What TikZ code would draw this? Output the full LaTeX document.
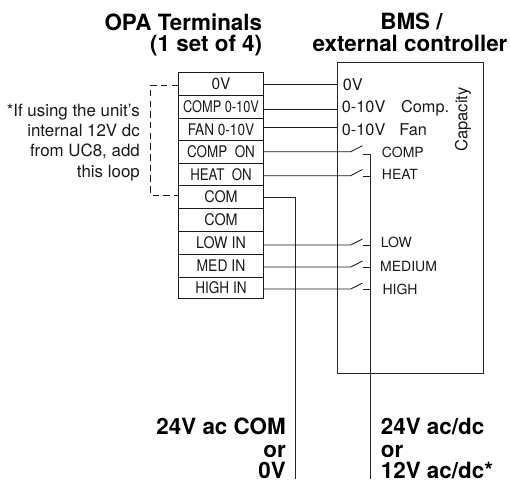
\documentclass[tikz,border=0pt]{standalone}
\usepackage{fontspec}
\setmainfont{TeX Gyre Heros}
\newcommand{\sq}[2]{\scalebox{#1}[1]{#2}}
\tikzset{
  wire/.style={draw=black!90,line width=0.85pt},
  vwire/.style={draw=black!85,line width=1pt},
  cell/.style={draw=black!90,line width=1pt,inner sep=0pt,minimum width=85pt,font=\fontsize{16}{18}\selectfont,text=black!90},
  note/.style={inner sep=0pt,font=\fontsize{16.9}{19}\selectfont,anchor=base east,text=black!90},
  head/.style={inner sep=0pt,font=\fontsize{22.4}{24}\selectfont\bfseries},
  big/.style={inner sep=0pt,font=\fontsize{22.4}{24}\selectfont\bfseries},
  lab/.style={inner sep=0pt,anchor=base west,font=\fontsize{16.3}{18}\selectfont,text=black!90},
  sm/.style={inner sep=0pt,anchor=base west,font=\fontsize{14}{16}\selectfont,text=black!90}
}
\newcommand{\cellnode}[4]{\node[cell,minimum height=#3-#2,anchor=north west] (#1) at (178,#2) {#4};}
\begin{document}
\begin{tikzpicture}[x=1pt,y=-1pt]
\useasboundingbox (0,0) rectangle (510,479);
% headers
\node[head,anchor=base east] (h1) at (262.3,30) {OPA Terminals};
\node[head,anchor=base east] (h2) at (262.3,51.5) {(1 set of 4)};
\node[head,anchor=base] (h3) at (411.5,29.5) {BMS /};
\node[head,anchor=base] (h4) at (410,51.5) {external controller};
% controller
\node[draw=black!85,line width=0.8pt,inner sep=0pt,minimum width=145.5pt,minimum height=310.5pt,anchor=north west] (ctrl) at (337.3,62.3) {};
\node[inner sep=0pt,rotate=90,anchor=base,font=\fontsize{16.6}{18}\selectfont,text=black!90] (cap) at (467.3,119.5) {Capacity};
% terminal block
\cellnode{t0}{72}{95}{\sq{0.97}{0V}}
\cellnode{t1}{95}{118}{\sq{0.8}{COMP 0-10V}}
\cellnode{t2}{118}{140}{\sq{0.85}{FAN 0-10V}}
\cellnode{t3}{140}{163}{\sq{0.84}{COMP\ \ ON}}
\cellnode{t4}{163}{185}{\sq{0.83}{HEAT\ \ ON}}
\cellnode{t5}{185}{207.5}{\sq{0.9}{COM}}
\cellnode{t6}{207.5}{230.5}{\sq{0.9}{COM}}
\cellnode{t7}{230.5}{253.5}{\sq{0.89}{LOW IN}}
\cellnode{t8}{253.5}{276.5}{\sq{0.87}{MED IN}}
\cellnode{t9}{276.5}{297.5}{\sq{0.85}{HIGH IN}}
% note
\node[note] (n1) at (140,116) {*If using the unit’s};
\node[note] (n2) at (140,136.7) {internal 12V dc};
\node[note] (n3) at (140,156.7) {from UC8, add};
\node[note] (n4) at (140,177) {this loop};
% dashed loop
\coordinate (la) at (150.7,85);
\coordinate (lb) at (150.7,195);
\draw[wire,dash pattern=on 6.5pt off 4.2pt] (t0.west |- la) -- (la) -- (lb) -- (t5.west |- lb);
% controller labels
\node[lab] (l0) at (342.7,90.7) {0V};
\node[lab] (l1) at (341.7,112.3) {0-10V\hspace{15.7pt}Comp.};
\node[lab] (l2) at (341.7,135) {0-10V\hspace{14pt}Fan};
\node[sm] (l3) at (381.7,157.7) {COMP};
\node[sm] (l4) at (381.7,179.3) {HEAT};
\node[sm] (l7) at (380.7,247.7) {LOW};
\node[sm] (l8) at (380,271.7) {MEDIUM};
\node[sm] (l9) at (382.3,294) {HIGH};
% direct wires
\coordinate (c0) at (337.3,84);
\coordinate (c1) at (337.3,109);
\coordinate (c2) at (337.3,127.7);
\draw[wire] (t0.east |- c0) -- (c0);
\draw[wire] (t1.east |- c1) -- (c1);
\draw[wire] (t2.east |- c2) -- (c2);
% switch contacts
\coordinate (s3) at (350.7,151.7); \coordinate (b3) at (362.5,145.7); \coordinate (k3) at (363,154);
\coordinate (s4) at (350.7,175.7); \coordinate (b4) at (362.5,169.5); \coordinate (k4) at (363,176);
\coordinate (s7) at (350.7,245); \coordinate (b7) at (362.5,239); \coordinate (k7) at (363,245);
\coordinate (s8) at (350.7,267); \coordinate (b8) at (362.5,261); \coordinate (k8) at (363,267);
\coordinate (s9) at (350.7,289); \coordinate (b9) at (362.5,283); \coordinate (k9) at (363,289.7);
\coordinate (rail) at (370.7,154);
\coordinate (railend) at (370.7,479);
\coordinate (comc) at (295.7,197.3);
\coordinate (comend) at (295.7,479);
% supply rails
\draw[vwire] (t5.east |- comc) -- (comc) -- (comend);
\draw[vwire] (k3) -- (rail) -- (railend);
\foreach \i in {3,4,7,8,9}{
  \draw[wire] (t\i.east |- s\i) -- (s\i) -- (b\i);
}
\foreach \i in {4,7,8,9}{
  \draw[wire] (k\i) -- (rail |- k\i);
}
% bottom labels
\node[big,anchor=base east] (a1) at (286,434.3) {24V ac COM};
\node[big,anchor=base east] (a2) at (286,457.3) {or};
\node[big,anchor=base east] (a3) at (286,478.5) {0V};
\node[big,anchor=base west] (d1) at (380.7,434.3) {24V ac/dc};
\node[big,anchor=base west] (d2) at (380.7,457.3) {or};
\node[big,anchor=base west] (d3) at (380.7,478.5) {12V ac/dc*};
\end{tikzpicture}
\end{document}
